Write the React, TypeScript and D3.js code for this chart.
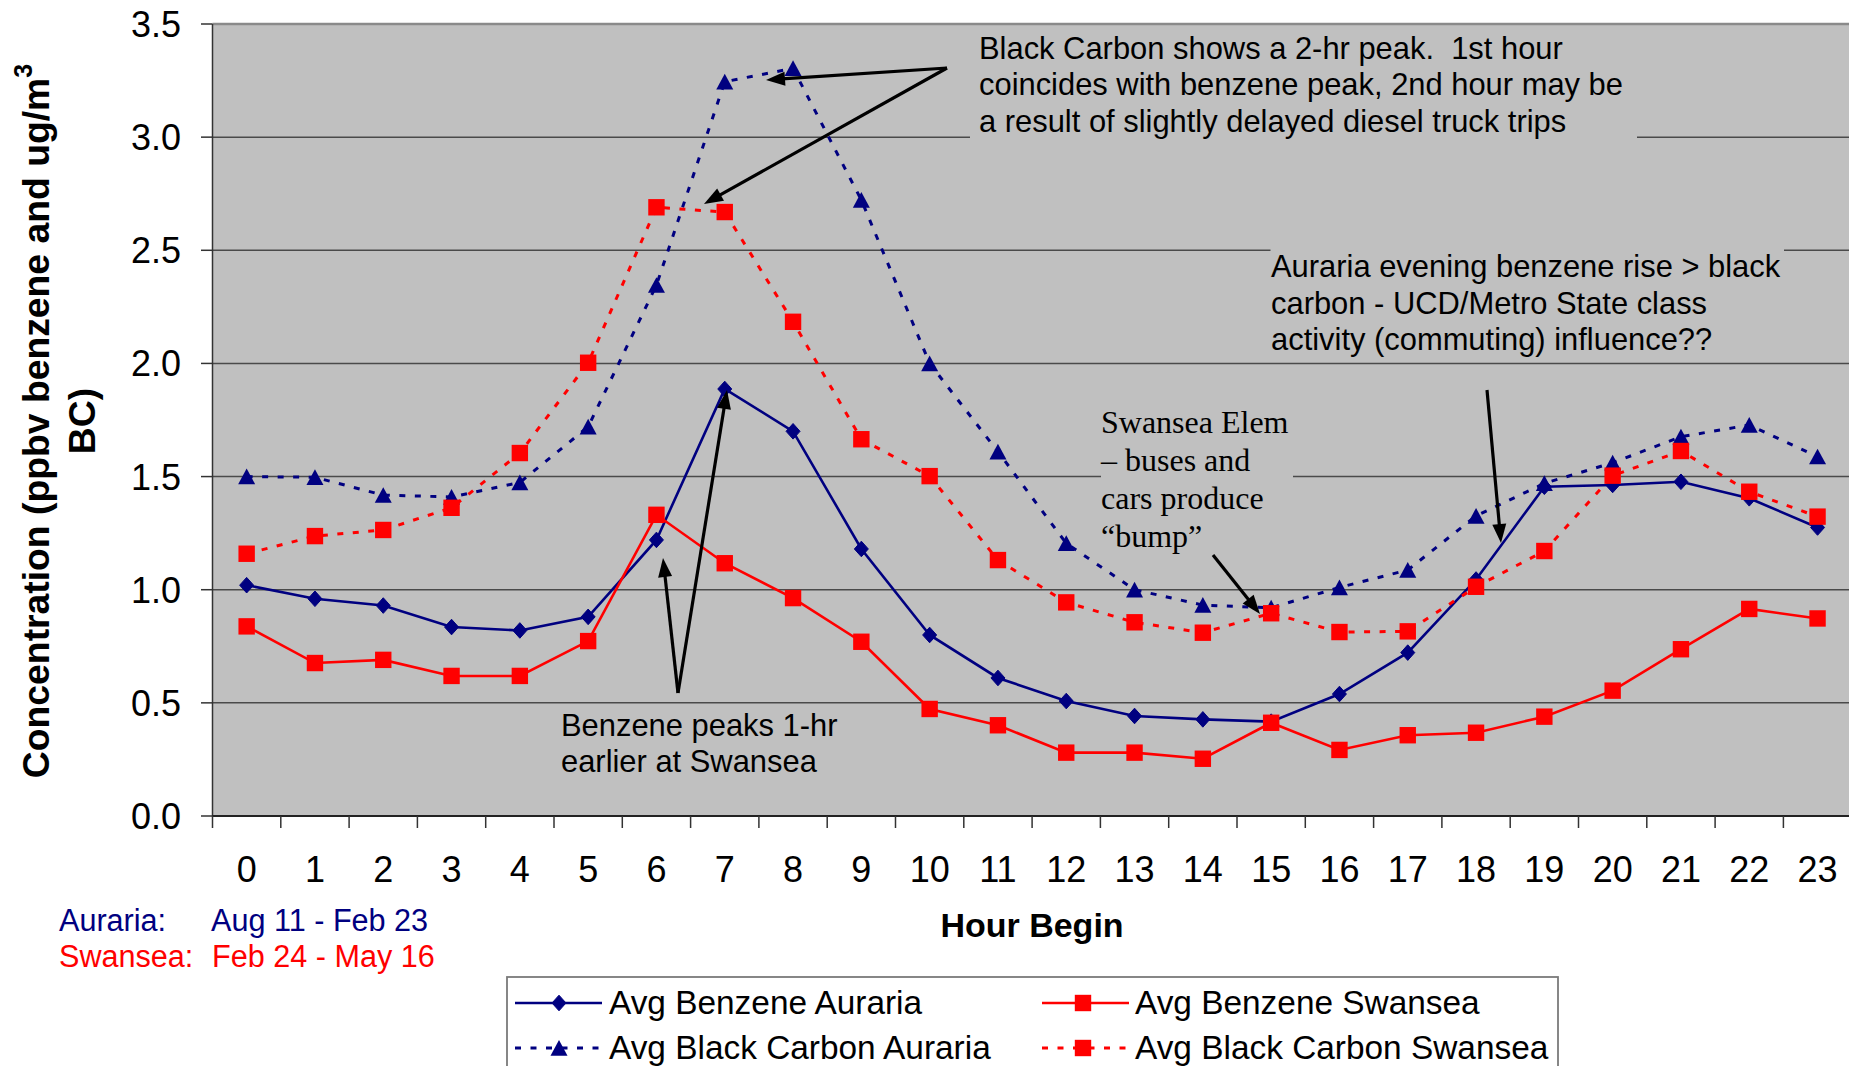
import React from "react";
import * as d3 from "d3";

const hours = Array.from({ length: 24 }, (_, i) => i);
const hourLabels = hours.map((h) => String(h));
const yTicks = [0, 0.5, 1.0, 1.5, 2.0, 2.5, 3.0, 3.5];

const benzeneAuraria = [1.02, 0.96, 0.93, 0.835, 0.82, 0.88, 1.22, 1.887, 1.70, 1.18, 0.80, 0.61, 0.508, 0.442, 0.427, 0.417, 0.539, 0.722, 1.045, 1.455, 1.463, 1.477, 1.404, 1.275];
const benzeneSwansea = [0.838, 0.676, 0.69, 0.619, 0.619, 0.773, 1.331, 1.117, 0.963, 0.77, 0.473, 0.401, 0.28, 0.28, 0.253, 0.412, 0.292, 0.357, 0.368, 0.439, 0.554, 0.737, 0.915, 0.873];
const bcAuraria = [1.50, 1.497, 1.418, 1.41, 1.474, 1.72, 2.346, 3.245, 3.304, 2.722, 2.0, 1.61, 1.205, 1.0, 0.932, 0.92, 1.01, 1.087, 1.326, 1.47, 1.561, 1.676, 1.728, 1.588];
const bcSwansea = [1.159, 1.237, 1.264, 1.362, 1.604, 2.003, 2.69, 2.669, 2.184, 1.665, 1.502, 1.131, 0.944, 0.856, 0.81, 0.896, 0.813, 0.816, 1.013, 1.171, 1.504, 1.613, 1.433, 1.323];

const seriesNames = ["Avg Benzene Auraria", "Avg Benzene Swansea", "Avg Black Carbon Auraria", "Avg Black Carbon Swansea"];

const NAVY = "#000080";
const RED = "#FF0000";
const SANS = "'Liberation Sans', Arial, sans-serif";
const SERIF = "'Liberation Serif', 'Times New Roman', serif";

const series = [
  { name: seriesNames[0], values: benzeneAuraria, color: NAVY, dashed: false, marker: "diamond" },
  { name: seriesNames[1], values: benzeneSwansea, color: RED, dashed: false, marker: "square" },
  { name: seriesNames[2], values: bcAuraria, color: NAVY, dashed: true, marker: "triangle" },
  { name: seriesNames[3], values: bcSwansea, color: RED, dashed: true, marker: "square" },
];

function Marker({ type, x, y, color }: { type: string; x: number; y: number; color: string }) {
  if (type === "diamond") {
    return <polygon points={`${x},${y - 7.8} ${x + 7},${y} ${x},${y + 7.8} ${x - 7},${y}`} fill={color} stroke={color} strokeWidth={1} />;
  }
  if (type === "triangle") {
    return <polygon points={`${x},${y - 8} ${x + 8.5},${y + 7.7} ${x - 8.5},${y + 7.7}`} fill={color} />;
  }
  return <rect x={x - 8.2} y={y - 8.2} width={16.4} height={16.4} fill={color} />;
}

function Arrow({ x1, y1, x2, y2 }: { x1: number; y1: number; x2: number; y2: number }) {
  const ang = Math.atan2(y2 - y1, x2 - x1);
  const len = 19;
  const hw = 7;
  const bx = x2 - len * Math.cos(ang);
  const by = y2 - len * Math.sin(ang);
  const px = -Math.sin(ang) * hw;
  const py = Math.cos(ang) * hw;
  return (
    <g>
      <line x1={x1} y1={y1} x2={bx + 3 * Math.cos(ang)} y2={by + 3 * Math.sin(ang)} stroke="#000" strokeWidth={3.2} />
      <polygon points={`${x2},${y2} ${bx + px},${by + py} ${bx - px},${by - py}`} fill="#000" />
    </g>
  );
}

export default function App() {
  const W = 1849;
  const H = 1066;
  const left = 212.5;
  const right = 1851.7;
  const top = 24;
  const bottom = 816;

  const x = d3.scaleBand<number>().domain(hours).range([left, right]).paddingInner(0).paddingOuter(0);
  const bw = x.bandwidth();
  const cx = (h: number) => (x(h) as number) + bw / 2;
  const y = d3.scaleLinear().domain([0, 3.5]).range([bottom, top]);

  const line = d3
    .line<number>()
    .x((_, i) => cx(hours[i]))
    .y((d) => y(d));

  const tickEdges = [...hours.map((h) => x(h) as number), right];

  const ann1 = ["Black Carbon shows a 2-hr peak.  1st hour", "coincides with benzene peak, 2nd hour may be", "a result of slightly delayed diesel truck trips"];
  const ann2 = ["Auraria evening benzene rise > black", "carbon - UCD/Metro State class", "activity (commuting) influence??"];
  const ann3 = ["Swansea Elem", "\u2013 buses and", "cars produce", "\u201Cbump\u201D"];
  const ann4 = ["Benzene peaks 1-hr", "earlier at Swansea"];

  const legendItems = [
    { s: series[0], lx: 515, mx: 559, tx: 609, ry: 1003 },
    { s: series[1], lx: 1042, mx: 1083, tx: 1135, ry: 1003 },
    { s: series[2], lx: 515, mx: 559, tx: 609, ry: 1048 },
    { s: series[3], lx: 1042, mx: 1083, tx: 1135, ry: 1048 },
  ];

  return (
    <div style={{ position: "absolute", left: 0, top: 0, width: W, height: H, overflow: "hidden", background: "#fff" }}>
      <svg width={W} height={H} style={{ display: "block" }} fontFamily={SANS}>
        {/* plot background */}
        <rect x={left} y={top} width={right - left} height={bottom - top} fill="#C0C0C0" />
        {/* gridlines */}
        {yTicks.filter((t) => t > 0 && t < 3.5).map((t) => (
          <line key={t} x1={left} x2={right} y1={y(t)} y2={y(t)} stroke="#4a4a4a" strokeWidth={1.5} />
        ))}
        <line x1={left} x2={right} y1={top} y2={top} stroke="#8a8a8a" strokeWidth={2.5} />

        {/* annotation boxes covering gridlines */}
        <rect x={970} y={30} width={667} height={112} fill="#C0C0C0" />
        <rect x={1270.5} y={238} width={513.5} height={118} fill="#C0C0C0" />
        <rect x={1101} y={402} width={192} height={156} fill="#C0C0C0" />

        {/* series */}
        {series.map((s) => (
          <path
            key={s.name + "-line"}
            d={line(s.values) || ""}
            fill="none"
            stroke={s.color}
            strokeWidth={s.dashed ? 3 : 2.6}
            strokeDasharray={s.dashed ? "6 9.5" : undefined}
          />
        ))}
        {series.map((s) => (
          <g key={s.name + "-markers"}>
            {s.values.map((v, i) => (
              <Marker key={i} type={s.marker} x={cx(hours[i])} y={y(v)} color={s.color} />
            ))}
          </g>
        ))}

        {/* axes */}
        <line x1={left} x2={left} y1={top} y2={bottom} stroke="#333" strokeWidth={1.5} />
        {yTicks.map((t) => (
          <line key={"yt" + t} x1={201} x2={left} y1={y(t)} y2={y(t)} stroke="#333" strokeWidth={1.5} />
        ))}
        <line x1={left} x2={right} y1={bottom} y2={bottom} stroke="#222" strokeWidth={2.2} />
        {tickEdges.map((e, i) => (
          <line key={"xt" + i} x1={e} x2={e} y1={bottom} y2={bottom + 12} stroke="#333" strokeWidth={1.5} />
        ))}

        {/* y tick labels */}
        {yTicks.map((t) => (
          <text key={"yl" + t} x={181} y={y(t)} dy="0.36em" textAnchor="end" fontSize={36} fill="#000">
            {t.toFixed(1)}
          </text>
        ))}
        {/* x tick labels */}
        {hours.map((h, i) => (
          <text key={"xl" + h} x={cx(h)} y={882} textAnchor="middle" fontSize={36} fill="#000">
            {hourLabels[i]}
          </text>
        ))}

        {/* axis titles */}
        <text x={1032} y={937} textAnchor="middle" fontSize={34} fontWeight="bold" fill="#000">
          Hour Begin
        </text>
        <g transform="translate(49,421) rotate(-90)">
          <text x={0} y={0} textAnchor="middle" fontSize={37.3} fontWeight="bold" fill="#000">
            Concentration (ppbv benzene and ug/m
            <tspan fontSize={25} dy={-17}>3</tspan>
          </text>
          <text x={0} y={46} textAnchor="middle" fontSize={37.3} fontWeight="bold" fill="#000">
            BC)
          </text>
        </g>

        {/* annotations */}
        <g fontSize={30.9} fill="#000" style={{ whiteSpace: "pre" }}>
          {ann1.map((t, i) => (
            <text key={"a1" + i} x={979} y={59 + i * 36.3} xmlSpace="preserve">{t}</text>
          ))}
          {ann2.map((t, i) => (
            <text key={"a2" + i} x={1271} y={277 + i * 36.5}>{t}</text>
          ))}
          {ann4.map((t, i) => (
            <text key={"a4" + i} x={561} y={736 + i * 36.3}>{t}</text>
          ))}
        </g>
        <g fontSize={32} fill="#000" fontFamily={SERIF}>
          {ann3.map((t, i) => (
            <text key={"a3" + i} x={1101} y={433 + i * 38}>{t}</text>
          ))}
        </g>

        {/* arrows */}
        <Arrow x1={947} y1={68} x2={766} y2={80} />
        <Arrow x1={947} y1={68} x2={704} y2={204} />
        <Arrow x1={678} y1={693} x2={663} y2={558} />
        <Arrow x1={678} y1={693} x2={727} y2={390} />
        <Arrow x1={1487} y1={390} x2={1501} y2={543} />
        <Arrow x1={1213} y1={555} x2={1260} y2={614} />

        {/* site date notes */}
        <g fontSize={30.6}>
          <text x={59} y={931} fill={NAVY}>Auraria:</text>
          <text x={211} y={931} fill={NAVY}>Aug 11 - Feb 23</text>
          <text x={59} y={967} fill={RED}>Swansea:</text>
          <text x={212} y={967} fill={RED}>Feb 24 - May 16</text>
        </g>

        {/* legend */}
        <rect x={507} y={977} width={1051} height={200} fill="#fff" stroke="#7a7a7a" strokeWidth={1.8} />
        {legendItems.map(({ s, lx, mx, tx, ry }) => (
          <g key={"lg" + s.name}>
            <line
              x1={lx}
              x2={lx + 87}
              y1={ry}
              y2={ry}
              stroke={s.color}
              strokeWidth={s.dashed ? 3 : 2.6}
              strokeDasharray={s.dashed ? "6 9.5" : undefined}
            />
            <Marker type={s.marker} x={mx} y={ry} color={s.color} />
            <text x={tx} y={ry} dy="0.33em" fontSize={33.4} fill="#000">
              {s.name}
            </text>
          </g>
        ))}
      </svg>
    </div>
  );
}
